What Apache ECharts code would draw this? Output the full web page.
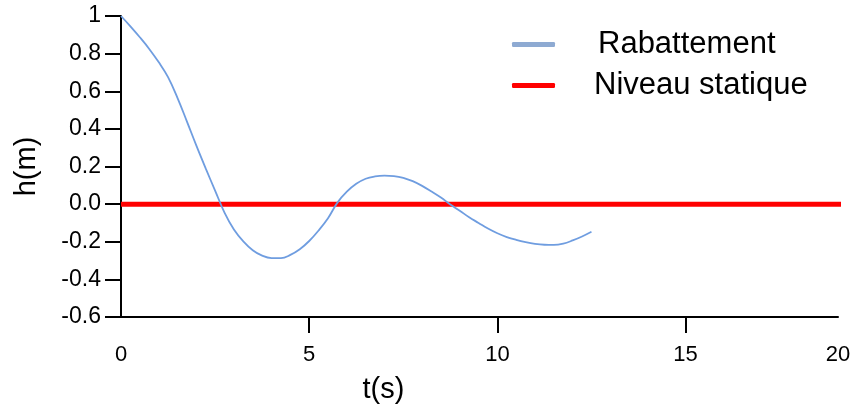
<!DOCTYPE html>
<html>
<head>
<meta charset="utf-8">
<script src="https://cdn.jsdelivr.net/npm/echarts@6/dist/echarts.min.js"></script>
<style>html,body{margin:0;padding:0;background:#fff}#c{width:856px;height:409px}</style>
</head>
<body>
<div id="c"></div>
<script>
// Rabattement (drawdown) curve: time (s) and head (m)
var timeRab = [0, 0.25, 0.5, 0.75, 1, 1.25, 1.5, 1.75, 2, 2.25, 2.5, 2.75, 3, 3.25, 3.5, 3.75, 4, 4.25, 4.5, 4.75, 5, 5.25, 5.5, 5.75, 6, 6.25, 6.5, 6.75, 7, 7.25, 7.5, 7.75, 8, 8.25, 8.5, 8.75, 9, 9.25, 9.5, 9.75, 10, 10.25, 10.5, 10.75, 11, 11.25, 11.5, 11.75, 12, 12.25, 12.5];
var headRab = [1.0, 0.945, 0.887, 0.825, 0.755, 0.675, 0.565, 0.44, 0.312, 0.19, 0.072, -0.045, -0.135, -0.198, -0.245, -0.274, -0.287, -0.287, -0.27, -0.24, -0.196, -0.14, -0.075, 0.008, 0.066, 0.108, 0.135, 0.147, 0.151, 0.149, 0.14, 0.122, 0.097, 0.067, 0.035, -0.002, -0.035, -0.07, -0.1, -0.13, -0.155, -0.175, -0.19, -0.202, -0.211, -0.216, -0.217, -0.21, -0.193, -0.172, -0.147];
// Niveau statique (static level)
var timeStat = [0, 20];
var headStat = [0, 0];
// axis ticks
var xTickValues = [0, 5, 10, 15];
var xTickLabels = ['0', '5', '10', '15', '20'];
var yTickLabels = ['-0.6', '-0.4', '-0.2', '0.0', '0.2', '0.4', '0.6', '0.8', '1'];
var xMax = 19.05;

function pairs(xs, ys) { return xs.map(function (x, i) { return [x, ys[i]]; }); }

var font = 'Liberation Sans, Arial, sans-serif';
var chart = echarts.init(document.getElementById('c'), null, { renderer: 'canvas' });
chart.setOption({
  animation: false,
  backgroundColor: '#ffffff',
  grid: { left: 121, right: 18, top: 16, bottom: 92, containLabel: false },
  legend: {
    orient: 'vertical',
    left: 507,
    top: 23,
    itemWidth: 43,
    itemHeight: 5,
    itemGap: 8,
    icon: 'roundRect',
    textStyle: { fontFamily: font, fontSize: 31, color: '#000', lineHeight: 33 },
    data: [
      { name: 'Rabattement', itemStyle: { color: '#8eaad2' }, textStyle: { padding: [0, 0, 0, 38] } },
      { name: 'Niveau statique', itemStyle: { color: '#ff0000' }, textStyle: { padding: [0, 0, 0, 34] } }
    ]
  },
  xAxis: {
    type: 'value',
    min: 0,
    max: xMax,
    interval: 5,
    name: 't(s)',
    nameLocation: 'middle',
    nameGap: 58,
    nameTextStyle: { fontFamily: font, fontSize: 29, color: '#000', padding: [0, 192, 0, 0] },
    splitLine: { show: false },
    axisLine: { show: true, onZero: false, lineStyle: { color: '#000', width: 2 } },
    axisTick: { show: true, length: 16, lineStyle: { color: '#000', width: 2 }, customValues: [5, 10, 15] },
    axisLabel: {
      show: true, showMinLabel: true, showMaxLabel: true,
      fontFamily: font, fontSize: 22, color: '#000', margin: 27,
      formatter: function (v) {
        var k = xTickValues.indexOf(v);
        return k >= 0 ? xTickLabels[k] : xTickLabels[xTickLabels.length - 1];
      }
    }
  },
  yAxis: {
    type: 'value',
    min: -0.6,
    max: 1,
    interval: 0.2,
    name: 'h(m)',
    nameLocation: 'middle',
    nameGap: 80,
    nameTextStyle: { fontFamily: font, fontSize: 29, color: '#000' },
    splitLine: { show: false },
    axisLine: { show: true, lineStyle: { color: '#000', width: 2 } },
    axisTick: { show: true, length: 16, lineStyle: { color: '#000', width: 2 } },
    axisLabel: {
      fontFamily: font, fontSize: 23, color: '#000', margin: 20,
      formatter: function (v) {
        var k = Math.round((v + 0.6) / 0.2);
        return yTickLabels[k];
      }
    }
  },
  series: [
    {
      name: 'Rabattement',
      type: 'line',
      smooth: 0.4,
      showSymbol: false,
      z: 3,
      lineStyle: { color: '#6f9de0', width: 1.8 },
      itemStyle: { color: '#8eaad2' },
      data: pairs(timeRab, headRab)
    },
    {
      name: 'Niveau statique',
      type: 'line',
      showSymbol: false,
      z: 2,
      lineStyle: { color: '#ff0000', width: 5 },
      itemStyle: { color: '#ff0000' },
      data: pairs(timeStat, headStat)
    }
  ]
});
</script>
</body>
</html>
